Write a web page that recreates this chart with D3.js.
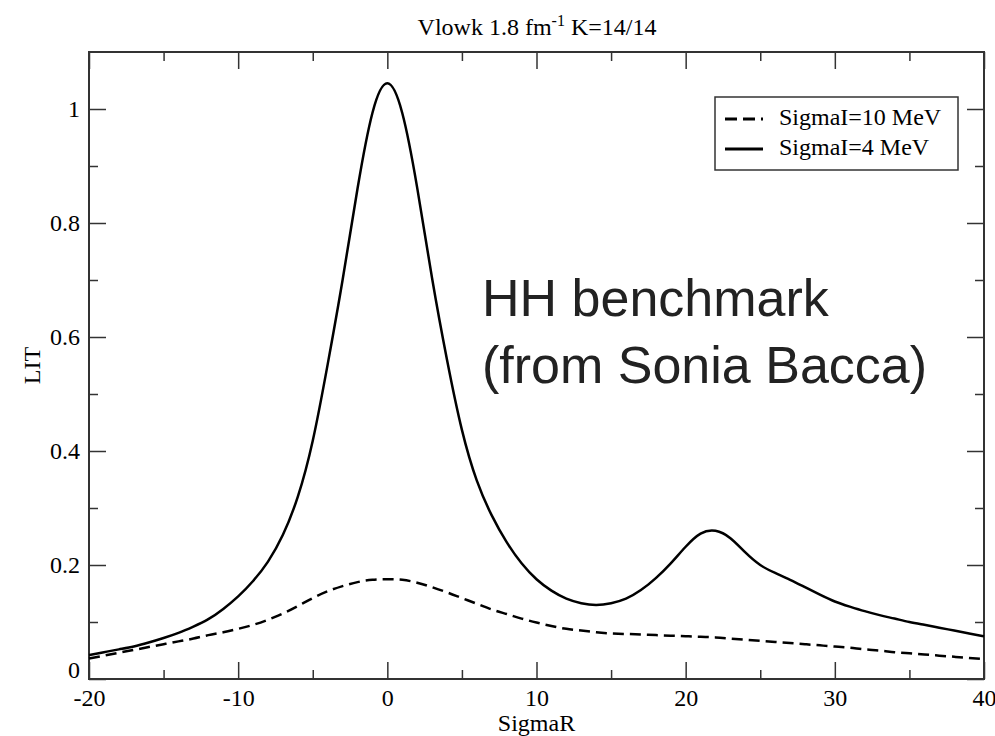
<!DOCTYPE html>
<html>
<head>
<meta charset="utf-8">
<script src="https://cdn.jsdelivr.net/npm/d3@7"></script>
<style>
  body { margin: 0; background: #fff; }
  svg { display: block; }
  .tick text { font-family: "Liberation Serif", "DejaVu Serif", serif; font-size: 24px; fill: #000; }
</style>
</head>
<body>
<div id="chart"></div>
<script>
// chart values
var sigmaR = d3.range(-20, 41);
var lit4 = [0.042, 0.047, 0.052, 0.057, 0.064, 0.072, 0.081, 0.092, 0.105, 0.123,
            0.145, 0.172, 0.206, 0.253, 0.320, 0.418, 0.552, 0.700, 0.860, 0.993,
            1.045, 0.993, 0.862, 0.703, 0.560, 0.437, 0.348, 0.287, 0.240, 0.203,
            0.175, 0.155, 0.141, 0.133, 0.130, 0.133, 0.141, 0.156, 0.177, 0.203,
            0.232, 0.255, 0.260, 0.247, 0.222, 0.200, 0.186, 0.174, 0.161, 0.148,
            0.136, 0.127, 0.119, 0.112, 0.106, 0.100, 0.095, 0.090, 0.085, 0.080, 0.075];
var lit10 = [0.036, 0.041, 0.046, 0.051, 0.056, 0.061, 0.066, 0.071, 0.077, 0.082,
             0.088, 0.095, 0.104, 0.115, 0.128, 0.142, 0.154, 0.163, 0.170, 0.174,
             0.175, 0.174, 0.169, 0.161, 0.152, 0.142, 0.132, 0.122, 0.114, 0.106,
             0.099, 0.093, 0.088, 0.085, 0.082, 0.080, 0.079, 0.078, 0.077, 0.076,
             0.075, 0.074, 0.073, 0.071, 0.069, 0.067, 0.065, 0.063, 0.061, 0.059,
             0.057, 0.055, 0.052, 0.050, 0.047, 0.045, 0.043, 0.041, 0.039, 0.037, 0.035];
var seriesNames = ["SigmaI=10 MeV", "SigmaI=4 MeV"];
var xMajor = [-20, -10, 0, 10, 20, 30, 40];
var xMinor = [-15, -5, 5, 15, 25, 35];
var yMajor = [0, 0.2, 0.4, 0.6, 0.8, 1];
var yMinor = [0.1, 0.3, 0.5, 0.7, 0.9];

var W = 995, H = 736;
var pL = 89, pR = 984, pT = 52, pB = 679;
var serif = '"Liberation Serif", "DejaVu Serif", serif';

var svg = d3.select("#chart").append("svg")
    .attr("width", W)
    .attr("height", H);

var x = d3.scaleLinear().domain([-20, 40]).range([pL, pR]);
var y = d3.scaleLinear().domain([0, 1.1]).range([pB, pT]);

// ticks on all four sides, pointing inward
function ticks(axis, tr, vals, size, labels, pad) {
  var g = svg.append("g").attr("transform", tr)
    .call(axis.tickValues(vals).tickSize(size).tickPadding(pad || 3)
      .tickFormat(labels ? function(d) { return String(d); } : ""));
  g.select(".domain").remove();
  g.selectAll(".tick line").attr("stroke", "#333").attr("stroke-width", 1.5);
  return g;
}
ticks(d3.axisBottom(x), "translate(0," + pB + ")", xMajor, -17, true, 10);
ticks(d3.axisBottom(x), "translate(0," + pB + ")", xMinor, -9, false);
ticks(d3.axisTop(x), "translate(0," + pT + ")", xMajor, -17, false);
ticks(d3.axisTop(x), "translate(0," + pT + ")", xMinor, -9, false);
var ly = ticks(d3.axisLeft(y), "translate(" + pL + ",0)", yMajor, -17, true, 9);
ticks(d3.axisLeft(y), "translate(" + pL + ",0)", yMinor, -9, false);
ticks(d3.axisRight(y), "translate(" + pR + ",0)", yMajor, -17, false);
ticks(d3.axisRight(y), "translate(" + pR + ",0)", yMinor, -9, false);

// the "0" on the y axis sits a little higher
ly.selectAll(".tick text").filter(function(d) { return d === 0; }).attr("dy", "-0.05em");

svg.append("rect")
    .attr("x", pL).attr("y", pT)
    .attr("width", pR - pL).attr("height", pB - pT)
    .attr("fill", "none")
    .attr("stroke", "#333")
    .attr("stroke-width", 2);

var line = d3.line()
    .x(function(d) { return x(d[0]); })
    .y(function(d) { return y(d[1]); })
    .curve(d3.curveNatural);

svg.append("path")
    .datum(d3.zip(sigmaR, lit10))
    .attr("d", line)
    .attr("fill", "none")
    .attr("stroke", "#000")
    .attr("stroke-width", 2.5)
    .attr("stroke-dasharray", "11,6");

svg.append("path")
    .datum(d3.zip(sigmaR, lit4))
    .attr("d", line)
    .attr("fill", "none")
    .attr("stroke", "#000")
    .attr("stroke-width", 2.5);

// legend
var leg = svg.append("g").attr("transform", "translate(715,97)");
leg.append("rect")
    .attr("width", 243).attr("height", 73)
    .attr("fill", "#fff")
    .attr("stroke", "#333")
    .attr("stroke-width", 1.5);
seriesNames.forEach(function(name, i) {
  var ly0 = 22 + i * 30;
  leg.append("line")
      .attr("x1", 10).attr("x2", 48)
      .attr("y1", ly0).attr("y2", ly0)
      .attr("stroke", "#000")
      .attr("stroke-width", 3)
      .attr("stroke-dasharray", i === 0 ? "12,6" : null);
  leg.append("text")
      .attr("x", 64).attr("y", ly0 + 6)
      .attr("font-family", serif)
      .attr("font-size", 24)
      .text(name);
});

// titles
var title = svg.append("text")
    .attr("x", 537).attr("y", 35)
    .attr("text-anchor", "middle")
    .attr("font-family", serif)
    .attr("font-size", 24);
title.append("tspan").text("Vlowk 1.8 fm");
title.append("tspan").attr("dy", -9).attr("font-size", 16).text("-1");
title.append("tspan").attr("dy", 9).text(" K=14/14");

svg.append("text")
    .attr("x", (pL + pR) / 2).attr("y", 731)
    .attr("text-anchor", "middle")
    .attr("font-family", serif)
    .attr("font-size", 24)
    .text("SigmaR");

svg.append("text")
    .attr("transform", "translate(40," + ((pT + pB) / 2) + ") rotate(-90)")
    .attr("text-anchor", "middle")
    .attr("font-family", serif)
    .attr("font-size", 24)
    .text("LIT");

// annotation
var note = svg.append("text")
    .attr("font-family", '"Liberation Sans", Arial, sans-serif')
    .attr("font-size", 52)
    .attr("fill", "#222");
note.append("tspan").attr("x", 482).attr("y", 316).text("HH benchmark");
note.append("tspan").attr("x", 482).attr("y", 383).text("(from Sonia Bacca)");
</script>
</body>
</html>
